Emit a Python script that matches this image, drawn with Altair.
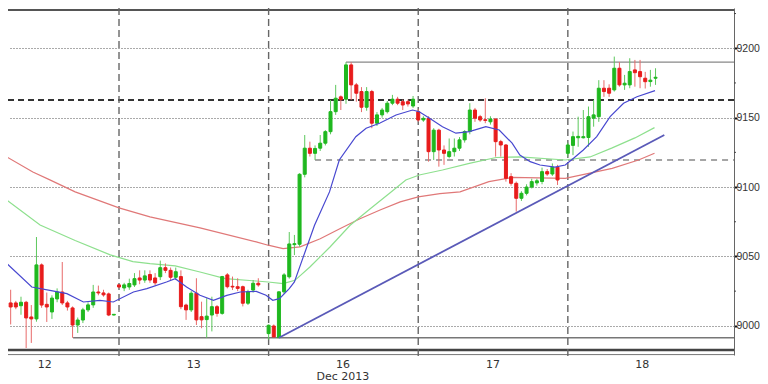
import altair as alt
import pandas as pd

# ---------------- data ----------------
idx = [0, 1, 2, 3, 4, 5, 6, 7, 8, 9, 10, 11, 12, 13, 14, 15, 16, 17, 18, 19, 20, 21, 22,
       23, 24, 25, 26, 27, 28, 29, 30, 31, 32, 33, 34, 35, 36, 37, 38, 39, 40, 41, 42, 43,
       44, 45, 46, 47, 48, 49, 50,
       52, 53, 54, 55, 56, 57, 58, 59, 60, 61, 62, 63, 64, 65, 66, 67, 68, 69, 70, 71, 72,
       73, 74, 75, 76, 77, 78, 79, 80,
       81, 82, 83, 84, 85, 86, 87, 88, 89, 90, 91, 92, 93, 94, 95, 96, 97, 98, 99, 100, 101,
       102, 103, 104, 105, 106, 107, 108,
       110, 111, 112, 113, 114, 115, 116, 117, 118, 119, 120, 121, 122, 123, 124, 125, 126, 127]

opens = [9038.0, 9034.5, 9016.5, 9016.5, 9014.5, 9017.0, 9006.4, 9005.0, 9043.9, 9015.5, 9010.0,
         9019.4, 9024.4, 9016.5, 9012.9, 9000.6, 9004.2, 9011.5, 9015.1, 9024.4, 9023.7, 9023.0,
         9007.8,
         9029.5, 9027.3, 9028.0, 9029.5, 9034.5, 9033.0, 9037.0, 9034.5, 9035.4, 9041.9, 9040.0,
         9035.0, 9035.5, 9015.0, 9011.5, 9023.5, 9006.6, 9004.5, 9007.8, 9013.8, 9009.0, 9036.7,
         9028.5, 9028.2, 9028.2, 9016.3, 9025.8, 9030.7,
         8994.4, 8999.9, 8991.5, 9024.5, 9035.3, 9058.5, 9058.8, 9109.2, 9128.0, 9124.3, 9128.0,
         9131.6, 9139.9, 9154.3, 9165.0, 9163.3, 9188.0, 9173.6, 9168.8, 9157.5, 9168.8, 9146.0,
         9152.0, 9154.3, 9160.4, 9163.3, 9161.5, 9161.5, 9158.4,
         9154.3, 9148.3, 9149.5, 9125.5, 9141.0, 9126.7, 9122.0, 9125.5, 9128.0, 9134.0, 9140.0,
         9155.5, 9150.7, 9148.5, 9147.0, 9149.0, 9132.7, 9130.3, 9107.5, 9102.7, 9091.9, 9095.5,
         9100.0, 9103.0, 9104.0, 9111.1, 9109.4, 9114.3,
         9124.3, 9130.0, 9135.5, 9135.5, 9135.7, 9149.6, 9150.7, 9171.2, 9171.2, 9170.0, 9185.6,
         9173.6, 9173.6, 9184.4, 9183.2, 9178.4, 9176.0, 9178.4]

highs = [9040.0, 9036.0, 9026.0, 9018.0, 9021.0, 9018.0, 9015.0, 9064.0, 9045.0, 9024.0, 9022.0,
         9027.0, 9046.0, 9018.0, 9014.0, 9006.0, 9013.0, 9017.0, 9029.5, 9029.0, 9026.0, 9024.0,
         9008.5,
         9030.0, 9031.0, 9034.0, 9038.0, 9040.0, 9040.0, 9040.0, 9038.0, 9047.0, 9045.0, 9042.0,
         9042.0, 9040.0, 9016.0, 9025.0, 9034.3, 9017.4, 9019.9, 9021.0, 9015.0, 9036.0, 9038.0,
         9035.5, 9034.3, 9029.0, 9026.0, 9033.0, 9034.3,
         9001.0, 9001.0, 9025.0, 9038.0, 9067.6, 9065.5, 9110.0, 9137.5, 9132.7, 9130.0, 9137.5,
         9141.0, 9162.8, 9173.6, 9166.0, 9190.0, 9190.0, 9175.0, 9172.0, 9172.0, 9170.0, 9154.0,
         9157.0, 9162.0, 9166.4, 9165.0, 9163.0, 9163.0, 9165.6,
         9156.0, 9151.0, 9151.0, 9142.4, 9142.0, 9130.0, 9135.0, 9135.0, 9136.0, 9141.0, 9160.4,
         9157.0, 9152.0, 9164.0, 9151.0, 9149.5, 9134.0, 9131.0, 9110.0, 9104.0, 9097.0, 9102.0,
         9106.0, 9106.0, 9114.0, 9113.0, 9117.0, 9116.0,
         9132.0, 9140.0, 9150.7, 9155.5, 9158.0, 9162.8, 9177.0, 9177.0, 9174.0, 9194.0, 9190.0,
         9180.8, 9192.8, 9191.6, 9191.6, 9183.0, 9184.4, 9185.6]

lows = [9014.0, 9008.0, 9001.0, 9012.0, 9008.0, 8984.0, 8987.7, 9003.0, 9013.0, 9002.8, 9005.0,
        9017.0, 9015.0, 9011.0, 8991.4, 8994.9, 9002.0, 9010.0, 9013.0, 9022.0, 9021.0, 9007.0,
        9007.5,
        9027.0, 9025.0, 9026.0, 9028.0, 9030.0, 9031.0, 9031.0, 9029.0, 9033.0, 9038.0, 9033.0,
        9033.0, 9012.0, 9004.3, 9010.0, 9000.6, 8998.3, 8991.4, 8996.0, 9006.6, 9008.0, 9027.0,
        9025.8, 9025.0, 9014.0, 9015.0, 9024.0, 9028.2,
        8990.0, 8991.5, 8991.3, 9023.0, 9034.0, 9051.0, 9057.0, 9107.0, 9122.0, 9119.5, 9126.0,
        9130.0, 9138.0, 9152.0, 9155.5, 9160.0, 9162.8, 9161.5, 9154.0, 9155.0, 9142.4, 9144.0,
        9150.0, 9153.0, 9159.0, 9159.0, 9155.5, 9158.0, 9157.0,
        9147.0, 9147.0, 9118.3, 9119.5, 9114.7, 9116.0, 9120.7, 9122.0, 9126.0, 9132.0, 9138.0,
        9147.0, 9147.0, 9146.0, 9145.0, 9121.9, 9121.9, 9103.9, 9101.0, 9082.3, 9090.0, 9094.0,
        9099.0, 9101.0, 9102.0, 9108.0, 9108.0, 9101.5,
        9122.0, 9123.0, 9129.0, 9135.0, 9129.0, 9143.5, 9147.0, 9165.0, 9165.0, 9168.8, 9172.3,
        9170.0, 9171.2, 9172.3, 9171.2, 9171.0, 9172.3, 9173.6]

closes = [9016.5, 9016.5, 9013.6, 9013.6, 9017.0, 9005.7, 9005.0, 9043.9, 9015.0, 9013.6, 9020.0,
          9024.4, 9016.5, 9013.6, 9000.6, 9004.2, 9011.5, 9015.1, 9024.4, 9023.7, 9022.3, 9007.8,
          9008.3,
          9028.0, 9029.5, 9030.5, 9034.0, 9033.0, 9036.0, 9033.0, 9031.0, 9041.9, 9040.0, 9035.0,
          9039.0, 9013.8, 9011.5, 9023.5, 9004.3, 9004.3, 9007.0, 9013.8, 9009.0, 9035.5, 9028.2,
          9028.0, 9027.0, 9016.3, 9024.6, 9030.7, 9029.5,
          9000.4, 8992.0, 9024.5, 9036.7, 9059.0, 9059.2, 9109.2, 9128.0, 9124.3, 9127.8, 9131.6,
          9139.9, 9154.3, 9164.0, 9163.0, 9188.0, 9173.6, 9167.6, 9157.5, 9168.8, 9146.0, 9152.0,
          9155.5, 9160.4, 9163.3, 9160.4, 9159.1, 9159.9, 9163.3,
          9148.3, 9149.5, 9125.5, 9141.0, 9126.7, 9124.3, 9125.5, 9128.0, 9134.0, 9140.0, 9155.5,
          9149.6, 9148.3, 9148.0, 9149.0, 9132.7, 9130.3, 9106.3, 9102.7, 9091.9, 9095.5, 9100.0,
          9103.9, 9104.5, 9111.1, 9109.4, 9114.3, 9105.1,
          9130.3, 9136.3, 9136.5, 9136.3, 9150.7, 9152.0, 9171.2, 9168.8, 9167.6, 9185.6, 9173.6,
          9174.8, 9183.2, 9182.4, 9179.5, 9175.9, 9177.0, 9179.1]

# moving averages (position in candle units, value)
blue_x = [-0.1, 6.1, 9.6, 12.9, 16.1, 19.3, 21.9, 25.8, 28.4, 32.2, 33.9, 36.1, 38.7, 41.3, 43.9,
          46.5, 49.6, 51.5, 52.8, 54.1, 56.0, 57.0, 58.6, 60.9, 63.8, 65.7, 68.9, 70.9, 73.5,
          76.7, 79.9, 81.2, 83.2, 85.7, 88.3, 90.9, 94.1, 96.7, 99.2, 100.7, 102.7, 104.6, 107.5,
          109.5, 111.1, 113.0, 115.6, 118.2, 120.8, 123.4, 126.9]
blue_y = [9049.6, 9028.0, 9025.6, 9023.2, 9017.2, 9018.4, 9017.2, 9024.4, 9026.8, 9031.6, 9034.0,
          9028.0, 9022.0, 9018.4, 9022.0, 9024.4, 9024.8, 9022.0, 9018.4, 9019.6, 9026.8, 9031.6,
          9048.4, 9072.5, 9096.5, 9119.5, 9136.3, 9142.4, 9146.0, 9151.9, 9155.5, 9154.3, 9149.6,
          9143.5, 9138.8, 9139.9, 9143.5, 9141.1, 9131.6, 9123.1, 9118.3, 9115.9, 9114.3, 9115.9,
          9120.7, 9126.7, 9136.3, 9150.7, 9160.4, 9165.1, 9169.5]

green_x = [-0.1, 7.7, 14.5, 21.3, 25.7, 29.0, 33.9, 38.7, 43.6, 49.6, 51.9, 54.8, 57.1, 60.0, 63.9,
           67.8, 71.7, 75.5, 78.6, 81.2, 85.7, 90.9, 96.1, 100.7, 109.5, 114.3, 118.6, 123.0, 126.8]
green_y = [9094.3, 9072.7, 9061.5, 9051.1, 9046.3, 9044.8, 9043.2, 9038.8, 9034.0, 9032.3, 9031.6,
           9030.4, 9032.8, 9042.4, 9056.8, 9072.5, 9084.4, 9095.7, 9105.1, 9108.7, 9112.3, 9117.1,
           9121.3, 9121.7, 9119.5, 9121.7, 9128.2, 9135.4, 9142.8]

red_x = [-0.1, 6.3, 9.6, 14.5, 23.0, 29.0, 38.7, 49.6, 51.9, 54.8, 58.1, 62.0, 65.8, 69.7, 73.6,
         77.5, 81.0, 85.2, 89.1, 94.7, 99.2, 109.5, 118.6, 123.7, 126.8]
red_y = [9124.6, 9110.9, 9105.2, 9096.5, 9085.0, 9078.5, 9070.6, 9060.5, 9058.1, 9055.7, 9056.9,
         9062.8, 9070.0, 9077.2, 9083.5, 9089.3, 9092.9, 9095.2, 9096.5, 9103.9, 9106.9, 9106.3,
         9113.5, 9119.5, 9124.4]

trend_x = [54.0, 128.7]
trend_y = [8991.4, 9137.5]

# horizontal levels: (value, start position)
top_level = 9227.6
resistance = (9190.0, 67.0)
pivot_dash = 9162.8
minor_dash = (9119.5, 61.0)
support = (8991.4, 14.1)
bottom_level = 8982.6

sep_pos = [23, 52, 81, 110]
day_pos = [8.6, 37.5, 66.4, 95.5, 124.4]
day_labels = ["12", "13", "16", "17", "18"]
month_label = "Dec 2013"
y_ticks = [9000, 9050, 9100, 9150, 9200]
y_minor = [9025, 9075, 9125, 9175, 9225]

# ---------------- chart ----------------
W, H = 726, 347
X_DOMAIN = [1.483, 142.208]
Y_DOMAIN = [8979.0, 9229.0]
xs = alt.Scale(domain=X_DOMAIN, nice=False, zero=False, padding=0)
ys = alt.Scale(domain=Y_DOMAIN, nice=False, zero=False, padding=0)
FONT = "DejaVu Sans"

yax = alt.Axis(orient="right", values=y_ticks, format="d", title=None, grid=True,
               gridColor="#555", gridDash=[1, 2], gridWidth=1, domain=True,
               domainColor="#666", domainWidth=1, ticks=True, tickColor="#111",
               tickSize=3, tickWidth=2, labelFont="Liberation Sans", labelFontSize=10.5,
               labelColor="#333", labelPadding=-1)


def X(field):
    return alt.X(field, scale=xs, axis=None)


def Y(field):
    return alt.Y(field, scale=ys, axis=yax)


def hline(value, start, color, width, dash=None, clip=True):
    d = pd.DataFrame({"x1": [start], "x2": [X_DOMAIN[1]], "y": [value]})
    kw = dict(color=color, strokeWidth=width, clip=clip)
    if dash:
        kw["strokeDash"] = dash
    return alt.Chart(d).mark_rule(**kw).encode(x=X("x1:Q"), x2="x2:Q", y=Y("y:Q"))


df = pd.DataFrame({"i": idx, "open": opens, "high": highs, "low": lows, "close": closes})
up = "datum.close >= datum.open"

wicks = alt.Chart(df).mark_rule(strokeWidth=1, clip=True).encode(
    x=X("i:Q"), y=Y("low:Q"), y2="high:Q",
    color=alt.condition(up, alt.value("#5cc85c"), alt.value("#e86a6a")),
)
bodies = alt.Chart(df).mark_bar(size=3, strokeWidth=1, clip=True).encode(
    x=X("i:Q"), y=Y("open:Q"), y2="close:Q",
    color=alt.condition(up, alt.value("#1fb81f"), alt.value("#e81c1c")),
    stroke=alt.condition(up, alt.value("#1fb81f"), alt.value("#e81c1c")),
)


def ma(xv, yv, color, width=1.2):
    d = pd.DataFrame({"x": xv, "y": yv})
    return alt.Chart(d).mark_line(color=color, strokeWidth=width, clip=True).encode(
        x=X("x:Q"), y=Y("y:Q"))


red_ma = ma(red_x, red_y, "#e07878")
green_ma = ma(green_x, green_y, "#8ee08e")
blue_ma = ma(blue_x, blue_y, "#4848d0")
trend = ma(trend_x, trend_y, "#5a5ab8", 1.8)

seps = alt.Chart(pd.DataFrame({"x": sep_pos})).mark_rule(
    color="#666", strokeWidth=1.4, strokeDash=[7, 4]).encode(
    x=X("x:Q"), y=alt.value(0), y2=alt.value(349))

levels = alt.layer(
    hline(top_level, X_DOMAIN[0], "#555", 2, clip=False),
    hline(resistance[0], resistance[1], "#888", 1.4),
    hline(pivot_dash, X_DOMAIN[0], "#333", 2, [6, 4]),
    hline(minor_dash[0], minor_dash[1], "#888", 1.4, [6, 5]),
    hline(support[0], support[1], "#777", 1.4),
    hline(bottom_level, X_DOMAIN[0], "#444", 2.5, clip=False),
    hline(Y_DOMAIN[0] + 0.3, X_DOMAIN[0], "#777", 1, clip=False),
)

minor = alt.Chart(pd.DataFrame({"y": y_minor})).mark_rule(color="#444", strokeWidth=1).encode(
    x=alt.value(W), x2=alt.value(W + 2), y=Y("y:Q"))

xlabels = alt.Chart(pd.DataFrame({"x": day_pos, "t": day_labels})).mark_text(
    font=FONT, fontSize=11, color="#333", baseline="middle", align="center").encode(
    x=X("x:Q"), y=alt.value(357), text="t:N")
month = alt.Chart(pd.DataFrame({"x": [day_pos[2]], "t": [month_label]})).mark_text(
    font=FONT, fontSize=11, color="#333", baseline="middle", align="center").encode(
    x=X("x:Q"), y=alt.value(369), text="t:N")

chart = alt.layer(
    levels, seps, red_ma, green_ma, wicks, bodies, blue_ma, trend, minor, xlabels, month
).properties(
    width=W, height=H,
    padding={"left": 0, "top": 0, "right": 26, "bottom": 29},
    autosize=alt.AutoSizeParams(type="none"),
    background="white",
).configure_view(stroke=None)

chart.save("out.html", embed_options={"renderer": "svg", "actions": False})
